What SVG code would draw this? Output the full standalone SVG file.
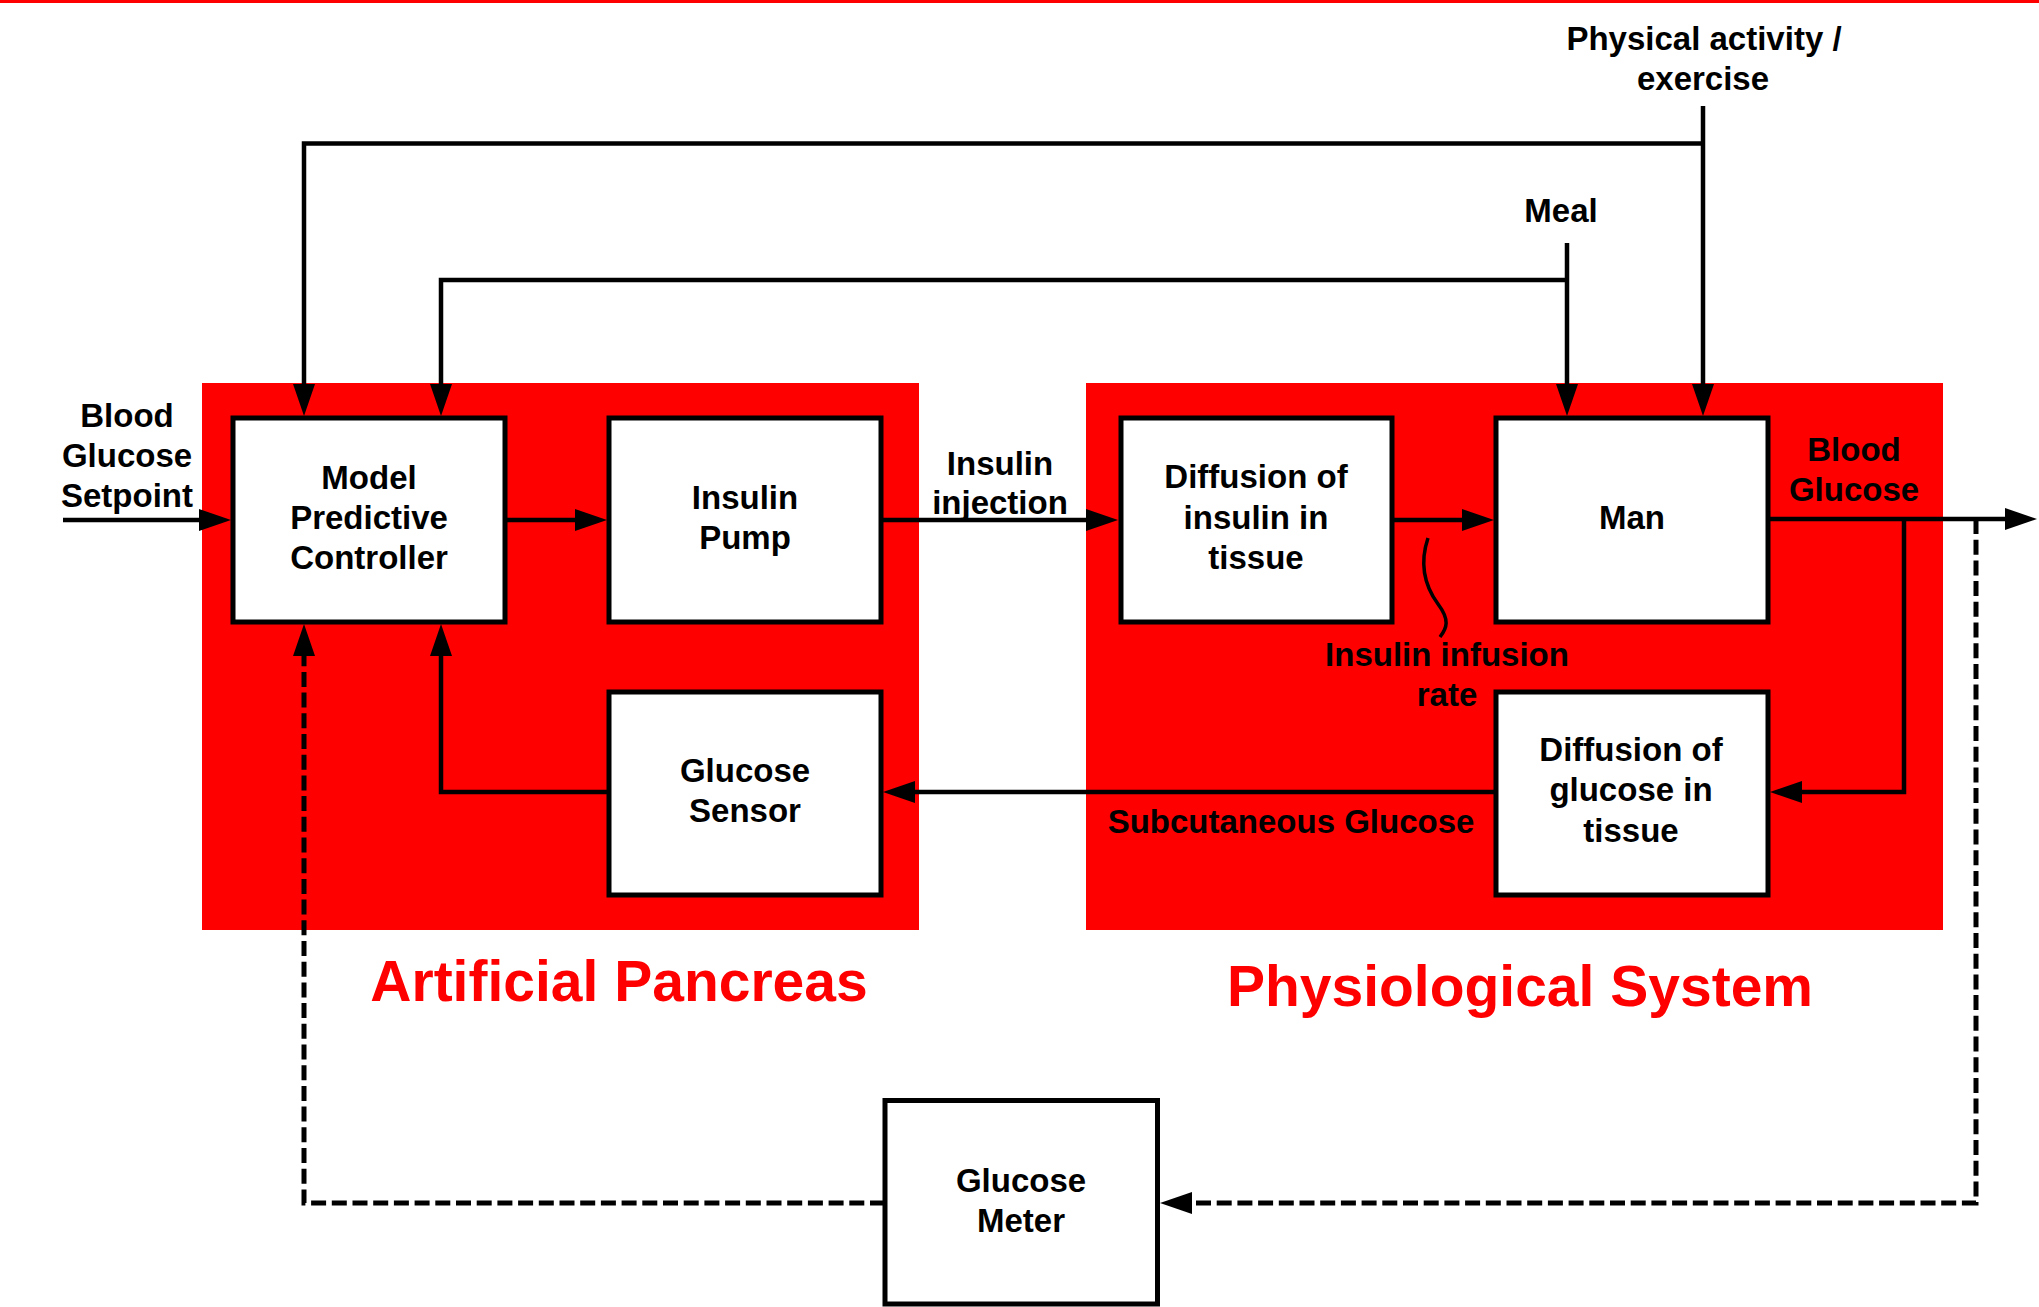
<svg xmlns="http://www.w3.org/2000/svg" width="2039" height="1307" viewBox="0 0 2039 1307">
<style>
.bg{fill:#ffffff}
.zone{fill:#ff0000}
.box{fill:#ffffff;stroke:#000000;stroke-width:5}
.t{font-family:"Liberation Sans",Arial,sans-serif;font-weight:bold;font-size:33px;fill:#000000;text-anchor:middle}
.title{font-family:"Liberation Sans",Arial,sans-serif;font-weight:bold;font-size:57px;fill:#ff0000;text-anchor:middle}
.ln{fill:none;stroke:#000000;stroke-width:4.5}
.arr{marker-end:url(#ah)}
.dash{stroke-dasharray:15 5.7;stroke-width:5}
</style>
<defs>
<marker id="ah" markerUnits="userSpaceOnUse" viewBox="0 0 32 22" markerWidth="32" markerHeight="22" refX="22" refY="11" orient="auto">
<path d="M0,0 L32,11 L0,22 z" fill="#000000"/>
</marker>
</defs>
<rect class="bg" x="0" y="0" width="2039" height="1307"/>
<rect x="0" y="0" width="2039" height="3" fill="#ff0000"/>
<g id="zone-artificial-pancreas">
<rect class="zone" x="202" y="383" width="717" height="547"/>
<text class="title" x="619" y="1001">Artificial Pancreas</text>
</g>
<g id="zone-physiological-system">
<rect class="zone" x="1086" y="383" width="857" height="547"/>
<text class="title" x="1520" y="1006">Physiological System</text>
</g>
<g id="connectors">
<path class="ln arr" d="M63,520 L221,520"/>
<path class="ln arr" d="M505,520 L597,520"/>
<path class="ln arr" d="M881,520 L1108,520"/>
<path class="ln arr" d="M1392,520 L1484,520"/>
<path class="ln arr" d="M1768,519 L2027,519"/>
<path class="ln arr" d="M1904,519 L1904,792 L1780,792"/>
<path class="ln arr" d="M1496,792 L893,792"/>
<path class="ln arr" d="M609,792 L441,792 L441,634"/>
<path class="ln arr" d="M1703,106 L1703,406"/>
<path class="ln arr" d="M1703,143.5 L304,143.5 L304,406"/>
<path class="ln arr" d="M1567,243 L1567,406"/>
<path class="ln arr" d="M1567,280 L441,280 L441,406"/>
<path class="ln dash arr" d="M1976,519 L1976,1203 L1170,1203"/>
<path class="ln dash arr" d="M885,1203 L304,1203 L304,634"/>
<path d="M1428,538 C1420,562 1424,585 1438,604 C1450,620 1447,628 1440,637" fill="none" stroke="#000000" stroke-width="3.5"/>
</g>
<g id="label-setpoint">
<text class="t" x="127" y="427">Blood</text>
<text class="t" x="127" y="467">Glucose</text>
<text class="t" x="127" y="507">Setpoint</text>
</g>
<g id="label-physical">
<text class="t" x="1704" y="50">Physical activity /</text>
<text class="t" x="1703" y="90">exercise</text>
</g>
<g id="label-meal">
<text class="t" x="1561" y="222">Meal</text>
</g>
<g id="label-insulin-injection">
<text class="t" x="1000" y="475">Insulin</text>
<text class="t" x="1000" y="514">injection</text>
</g>
<g id="label-blood-glucose">
<text class="t" x="1854" y="461">Blood</text>
<text class="t" x="1854" y="501">Glucose</text>
</g>
<g id="label-infusion-rate">
<text class="t" x="1447" y="666">Insulin infusion</text>
<text class="t" x="1447" y="706">rate</text>
</g>
<g id="label-subcutaneous">
<text class="t" x="1291" y="833">Subcutaneous Glucose</text>
</g>
<g id="node-mpc">
<rect class="box" x="233" y="418" width="272" height="204"/>
<text class="t" x="369" y="489">Model</text>
<text class="t" x="369" y="529">Predictive</text>
<text class="t" x="369" y="569">Controller</text>
</g>
<g id="node-pump">
<rect class="box" x="609" y="418" width="272" height="204"/>
<text class="t" x="745" y="509">Insulin</text>
<text class="t" x="745" y="549">Pump</text>
</g>
<g id="node-diffusion-insulin">
<rect class="box" x="1121" y="418" width="271" height="204"/>
<text class="t" x="1256" y="488">Diffusion of</text>
<text class="t" x="1256" y="529">insulin in</text>
<text class="t" x="1256" y="569">tissue</text>
</g>
<g id="node-man">
<rect class="box" x="1496" y="418" width="272" height="204"/>
<text class="t" x="1632" y="529">Man</text>
</g>
<g id="node-diffusion-glucose">
<rect class="box" x="1496" y="692" width="272" height="203"/>
<text class="t" x="1631" y="761">Diffusion of</text>
<text class="t" x="1631" y="801">glucose in</text>
<text class="t" x="1631" y="842">tissue</text>
</g>
<g id="node-glucose-sensor">
<rect class="box" x="609" y="692" width="272" height="203"/>
<text class="t" x="745" y="782">Glucose</text>
<text class="t" x="745" y="822">Sensor</text>
</g>
<g id="node-glucose-meter">
<rect class="box" x="885" y="1100.5" width="272.5" height="203.5"/>
<text class="t" x="1021" y="1192">Glucose</text>
<text class="t" x="1021" y="1232">Meter</text>
</g>
</svg>
